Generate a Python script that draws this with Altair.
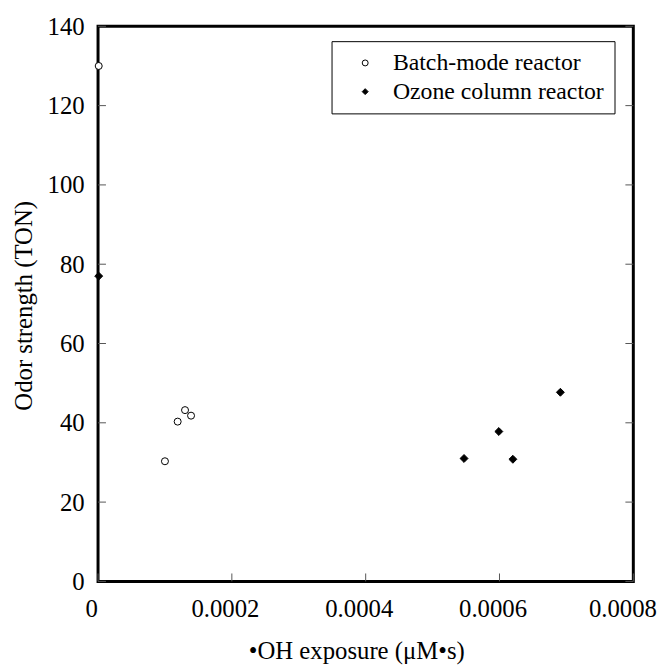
import altair as alt
import pandas as pd

# Data
batch_x = [0.000001, 0.000100, 0.000119, 0.000130, 0.000139]
batch_y = [130, 30.3, 40.3, 43.2, 41.8]
ozone_x = [0.000001, 0.000547, 0.000599, 0.000620, 0.000691]
ozone_y = [77, 31, 37.8, 30.8, 47.7]
series = ["Batch-mode reactor", "Ozone column reactor"]

x_ticks = [0, 0.0002, 0.0004, 0.0006, 0.0008]
y_ticks = [0, 20, 40, 60, 80, 100, 120, 140]

rows = []
for xv, yv in zip(batch_x, batch_y):
    rows.append({"x": xv, "y": yv, "Reactor": series[0]})
for xv, yv in zip(ozone_x, ozone_y):
    rows.append({"x": xv, "y": yv, "Reactor": series[1]})
df = pd.DataFrame(rows)

W, H = 541, 561
FONT = "Times New Roman, Liberation Serif, serif"

xscale = alt.Scale(domain=[0, 0.0008], nice=False, zero=False)
yscale = alt.Scale(domain=[0, 140], nice=False, zero=False)

xaxis = alt.Axis(title="•OH exposure (μM•s)", values=x_ticks,
                 labelExpr="datum.value == 0 ? '0' : format(datum.value, '.4f')",
                 ticks=False, tickSize=0, domain=False, grid=False,
                 labelPadding=15, labelFlush=False,
                 labelOffset={"condition": {"test": "datum.value >= 0.0008", "value": -11}, "value": -7},
                 labelFont=FONT, titleFont=FONT, labelFontSize=25, titleFontSize=25,
                 labelColor="black", titleColor="black", titleFontWeight="normal",
                 titleX=261, titleY=78, titleBaseline="alphabetic")
yaxis = alt.Axis(title="Odor strength (TON)", values=y_ticks,
                 ticks=False, tickSize=0, domain=False, grid=False,
                 labelPadding=14, labelFlush=False,
                 labelFont=FONT, titleFont=FONT, labelFontSize=25, titleFontSize=25,
                 labelColor="black", titleColor="black", titleFontWeight="normal",
                 titleX=-67, titleY=282, titleBaseline="alphabetic")

leg = alt.Legend(title=None, orient="none", legendX=236, legendY=15,
                 symbolSize=36, padding=10, symbolOffset=12,
                 labelOffset=16, rowPadding=5,
                 labelFont=FONT, labelFontSize=24, labelColor="black", labelLimit=0,
                 strokeColor="black", fillColor="white",
                 symbolStrokeWidth=1)

points = alt.Chart(df).mark_point(filled=True, stroke="black", strokeWidth=1, opacity=1).encode(
    x=alt.X("x:Q", scale=xscale, axis=xaxis),
    y=alt.Y("y:Q", scale=yscale, axis=yaxis),
    shape=alt.Shape("Reactor:N", scale=alt.Scale(domain=series, range=["circle", "diamond"]), legend=leg),
    fill=alt.Fill("Reactor:N", scale=alt.Scale(domain=series, range=["white", "black"]), legend=leg),
    size=alt.condition(alt.datum.Reactor == series[0], alt.value(50), alt.value(64)),
)

ydf = pd.DataFrame({"y": y_ticks})
xdf = pd.DataFrame({"x": x_ticks})
TC = "#555555"

yl = alt.Chart(ydf).mark_rule(color=TC, strokeWidth=1).encode(
    y=alt.Y("y:Q", scale=yscale, axis=yaxis), x=alt.value(0), x2=alt.value(8))
yr = alt.Chart(ydf).mark_rule(color=TC, strokeWidth=1).encode(
    y=alt.Y("y:Q", scale=yscale, axis=yaxis), x=alt.value(W - 8), x2=alt.value(W))
xb = alt.Chart(xdf).mark_rule(color=TC, strokeWidth=1).encode(
    x=alt.X("x:Q", scale=xscale, axis=xaxis), y=alt.value(H - 8), y2=alt.value(H))

chart = alt.layer(points, yl, yr, xb).properties(
    width=W, height=H,
    autosize=alt.AutoSizeParams(type="none"),
    padding={"left": 91, "top": 15, "right": 30, "bottom": 83},
).configure(
    font=FONT
).configure_view(
    stroke="black", strokeWidth=3
).configure_axis(
    labelFont=FONT, titleFont=FONT,
).configure_legend(
    labelFont=FONT,
)

chart.save("out.html", embed_options={"renderer": "svg", "actions": False})
